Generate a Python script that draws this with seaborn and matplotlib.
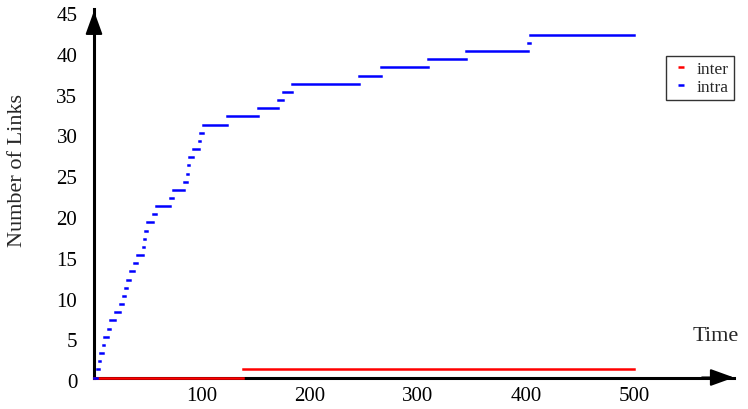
import matplotlib
matplotlib.use("Agg")
import matplotlib.pyplot as plt
import matplotlib.transforms as mtransforms
from matplotlib.lines import Line2D
import seaborn as sns
import pandas as pd

# step data: time at which each link count starts, last level runs until END_TIME
END_TIME = 500
intra_levels = list(range(0, 43))
intra_starts = [0, 3, 5, 6, 8, 9, 13, 15, 19, 24, 27, 29, 31, 33, 37, 40, 45, 46,
                47, 49, 55, 57, 70, 73, 83, 86, 87, 88, 92, 97, 98, 101, 123, 152,
                170, 175, 183, 245, 266, 309, 344, 402, 404]
inter_levels = [0, 1]
inter_starts = [0, 138]

x_ticks = [100, 200, 300, 400, 500]
y_ticks = list(range(0, 50, 5))
colors = {"inter": "#ff0000", "intra": "#0000ff"}

sns.set_theme(style="white")
plt.rcParams["font.family"] = ["Liberation Serif", "DejaVu Serif"]


def to_segments(kind, levels, starts):
    rows = []
    ends = starts[1:] + [END_TIME]
    for i, (lev, s, e) in enumerate(zip(levels, starts, ends)):
        rows.append({"time": s, "links": lev, "type": kind, "seg": f"{kind}{i}"})
        rows.append({"time": e, "links": lev, "type": kind, "seg": f"{kind}{i}"})
    return rows


df = pd.DataFrame(to_segments("inter", inter_levels, inter_starts)
                  + to_segments("intra", intra_levels, intra_starts))

fig = plt.figure(figsize=(7.48, 4.10), dpi=100)
ax = fig.add_axes([94 / 748, 31.5 / 410, 640 / 748, 368.5 / 410])

sns.lineplot(data=df, x="time", y="links", hue="type", units="seg",
             estimator=None, sort=False, palette=colors, hue_order=["inter", "intra"],
             lw=1.8, legend=False, ax=ax, zorder=3, clip_on=False)
for ln in ax.lines:
    ln.set_solid_capstyle("projecting")

ax.set_xlim(0, 640 / 1.08)
ax.set_ylim(0, 368.5 / 8.16)
ax.set_xticks(x_ticks)
ax.set_yticks(y_ticks)

for side in ["top", "right"]:
    ax.spines[side].set_visible(False)
for side in ["left", "bottom"]:
    ax.spines[side].set_color("black")
    ax.spines[side].set_linewidth(2.2)

ax.tick_params(axis="both", direction="in", length=5, width=1.1, color="#333333",
               labelsize=15, labelcolor="black")
ax.tick_params(axis="y", pad=12)
ax.tick_params(axis="x", pad=6)

# y labels sit a little below their ticks in the reference
offset = mtransforms.ScaledTranslation(0, -2 / 72, fig.dpi_scale_trans)
for lab in ax.get_yticklabels():
    lab.set_transform(lab.get_transform() + offset)

# arrow heads on the axes
head = "-|>,head_length=14.4,head_width=5.2"
ax.annotate("", xy=(1, 0), xytext=(0.95, 0), xycoords="axes fraction",
            arrowprops=dict(arrowstyle=head, mutation_scale=1, color="black",
                            lw=1.5, shrinkA=0, shrinkB=0), annotation_clip=False)
ax.annotate("", xy=(0, 0.995), xytext=(0, 0.95), xycoords="axes fraction",
            arrowprops=dict(arrowstyle=head, mutation_scale=1, color="black",
                            lw=1.5, shrinkA=0, shrinkB=0), annotation_clip=False)

ax.set_ylabel("Number of Links", fontsize=16, va="center")
ax.yaxis.set_label_coords(-0.12, 0.565)
ax.set_xlabel("Time", fontsize=16, va="center")
ax.xaxis.set_label_coords(0.972, 0.115)

handles = [Line2D([], [], color=colors["inter"], ls="none", marker="_", ms=5, mew=1.8),
           Line2D([], [], color=colors["intra"], ls="none", marker="_", ms=5, mew=1.8)]
leg = ax.legend(handles, ["inter", "intra"], loc="upper right",
                bbox_to_anchor=(734 / 748, (410 - 57) / 410),
                bbox_transform=fig.transFigure, fontsize=12.5, frameon=True,
                fancybox=False, handlelength=1.2, handletextpad=0.29,
                labelspacing=0.08, borderpad=0.3, borderaxespad=0)
leg.get_frame().set_edgecolor("black")
leg.get_frame().set_linewidth(1.0)

plt.savefig("out.png", dpi=100)
plt.close()
